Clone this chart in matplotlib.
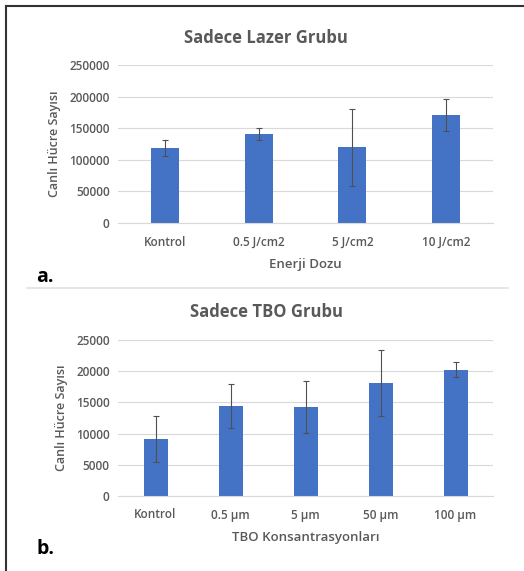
import matplotlib
matplotlib.use("Agg")
import matplotlib.pyplot as plt
from matplotlib.lines import Line2D

plt.rcParams["font.family"] = ["Open Sans", "DejaVu Sans"]

# Veri — panel a
lazer_labels = ["Kontrol", "0.5 J/cm2", "5 J/cm2", "10 J/cm2"]
lazer_values = [118500, 141000, 120000, 171000]
lazer_errors = [12500, 9000, 61000, 25000]

# Veri — panel b
tbo_labels = ["Kontrol", "0.5 µm", "5 µm", "50 µm", "100 µm"]
tbo_values = [9100, 14400, 14300, 18150, 20200]
tbo_errors = [3700, 3500, 4200, 5250, 1200]

W, H = 524, 571
BAR = "#4472C4"
TXT = "#595959"
GRID = "#D9D9D9"

fig = plt.figure(figsize=(W / 100, H / 100), dpi=100)
fig.patch.set_facecolor("white")


def px_axes(x0, y_top, x1, y_bot):
    return fig.add_axes([x0 / W, 1 - y_bot / H, (x1 - x0) / W, (y_bot - y_top) / H])


def draw_panel(ax, labels, values, errors, ymax, step, width, title, xlabel, title_y):
    x = range(len(labels))
    ax.bar(x, values, width=width, color=BAR, zorder=2)
    ax.errorbar(x, values, yerr=errors, fmt="none", ecolor="#505050",
                elinewidth=0.8, capsize=2, capthick=0.8, zorder=3)
    ax.set_ylim(0, ymax)
    ax.set_xlim(-0.5, len(labels) - 0.5)
    ax.set_yticks(range(0, ymax + 1, step))
    ax.set_xticks(list(x))
    ax.set_xticklabels(labels)
    ax.tick_params(length=0, labelsize=8.5, labelcolor=TXT, pad=6)
    ax.tick_params(axis="x", pad=9)
    for lbl in ax.get_xticklabels() + ax.get_yticklabels():
        lbl.set_fontweight("semibold")
    ax.grid(axis="y", color=GRID, linewidth=0.8, zorder=0)
    for s in ["top", "right", "left"]:
        ax.spines[s].set_visible(False)
    ax.spines["bottom"].set_color(GRID)
    ax.set_ylabel("Canlı Hücre Sayısı", fontsize=9, color=TXT, labelpad=6,
                  fontweight="semibold")
    ax.set_xlabel(xlabel, fontsize=9.5, color=TXT, labelpad=7, fontweight="semibold")
    fig.text(266 / W, 1 - title_y / H, title, fontsize=12, fontweight="bold",
             color=TXT, ha="center", va="center")


ax1 = px_axes(118, 65, 493, 223)
draw_panel(ax1, lazer_labels, lazer_values, lazer_errors, 250000, 50000, 0.3,
           "Sadece Lazer Grubu", "Enerji Dozu", 38)

ax2 = px_axes(118, 340, 493, 496)
draw_panel(ax2, tbo_labels, tbo_values, tbo_errors, 25000, 5000, 0.32,
           "Sadece TBO Grubu", "TBO Konsantrasyonları", 312)

# Panel harfleri
fig.text(36 / W, 1 - 277 / H, "a.", fontsize=14, fontweight="bold", va="center")
fig.text(36 / W, 1 - 549 / H, "b.", fontsize=14, fontweight="bold", va="center")

# Çerçeve ve ayırıcı çizgi
fig.add_artist(Line2D([6 / W, 1], [1 - 6 / H, 1 - 6 / H], color="#333333", lw=1.5))
fig.add_artist(Line2D([6 / W, 6 / W], [0, 1 - 6 / H], color="#333333", lw=1.5))
fig.add_artist(Line2D([27 / W, 508 / W], [1 - 288 / H, 1 - 288 / H], color="#E0E0E0", lw=1.2))

fig.savefig("out.png", dpi=100)
plt.close(fig)
